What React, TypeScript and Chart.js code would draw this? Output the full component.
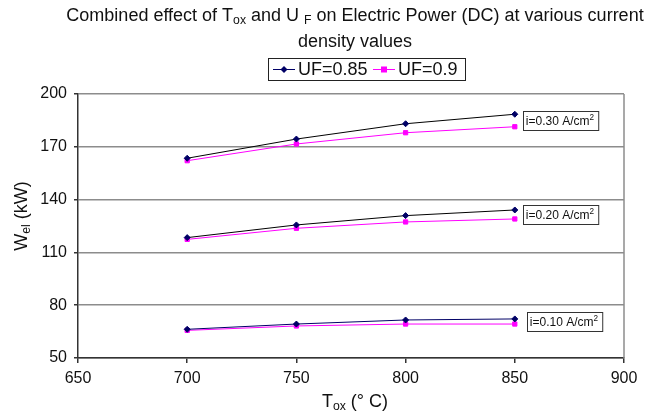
import React, { useEffect, useRef } from "react";
import { Chart, registerables } from "chart.js";
Chart.register(...registerables);

const tempsC = [700, 750, 800, 850];
const uf085_i030 = [163.5, 174.4, 183.1, 188.5];
const uf090_i030 = [162.1, 171.6, 178.0, 181.4];
const uf085_i020 = [118.4, 125.6, 130.9, 134.1];
const uf090_i020 = [117.4, 123.7, 127.3, 129.0];
const uf085_i010 = [66.3, 69.3, 71.6, 72.2];
const uf090_i010 = [65.7, 68.2, 69.3, 69.3];
const densityLabels = ["i=0.30 A/cm", "i=0.20 A/cm", "i=0.10 A/cm"];
const seriesNames = ["UF=0.85", "UF=0.9"];
const xMin = 650, xMax = 900, xStep = 50;
const yMin = 50, yMax = 200, yStep = 30;

const FONT = "'Liberation Sans', Arial, sans-serif";
const C085 = "#000066";
const C090 = "#ff00ff";

type Part = { t: string; sub?: boolean; sup?: boolean };

function partsWidth(ctx: CanvasRenderingContext2D, parts: Part[], size: number) {
  let w = 0;
  for (const p of parts) {
    const s = p.sub || p.sup ? size * 0.68 : size;
    ctx.font = `${s}px ${FONT}`;
    w += ctx.measureText(p.t).width;
  }
  return w;
}

function drawParts(ctx: CanvasRenderingContext2D, parts: Part[], x: number, cy: number, size: number) {
  ctx.textBaseline = "middle";
  ctx.textAlign = "left";
  let cx = x;
  for (const p of parts) {
    const s = p.sub || p.sup ? size * 0.68 : size;
    ctx.font = `${s}px ${FONT}`;
    const dy = p.sub ? size * 0.28 : p.sup ? -size * 0.38 : 0;
    ctx.fillText(p.t, cx, cy + dy);
    cx += ctx.measureText(p.t).width;
  }
}

function drawCentered(ctx: CanvasRenderingContext2D, parts: Part[], cx: number, cy: number, size: number) {
  const w = partsWidth(ctx, parts, size);
  drawParts(ctx, parts, cx - w / 2, cy, size);
}

const groups = [
  { a: uf085_i030, b: uf090_i030, lineA: "#000000", offset: 8 },
  { a: uf085_i020, b: uf090_i020, lineA: "#000000", offset: 8 },
  { a: uf085_i010, b: uf090_i010, lineA: C085, offset: 12 },
];

const decorPlugin = {
  id: "decor",
  afterDraw(chart: any) {
    const ctx: CanvasRenderingContext2D = chart.ctx;
    const { chartArea } = chart;
    const xs = chart.scales.x;
    const ys = chart.scales.y;
    ctx.save();
    // right border
    ctx.strokeStyle = "#8c8c8c";
    ctx.lineWidth = 1.5;
    ctx.beginPath();
    ctx.moveTo(chartArea.right, chartArea.top);
    ctx.lineTo(chartArea.right, chartArea.bottom);
    ctx.stroke();

    ctx.fillStyle = "#111";
    // title
    drawCentered(ctx, [
      { t: "Combined effect of T" }, { t: "ox", sub: true }, { t: " and U " }, { t: "F", sub: true },
      { t: " on Electric Power (DC) at various current" },
    ], 355, 16, 18);
    drawCentered(ctx, [{ t: "density values" }], 355, 42, 18);

    // legend
    const lx = 268, ly = 58, lw = 197, lh = 22;
    ctx.fillStyle = "#fff";
    ctx.fillRect(lx, ly, lw, lh);
    ctx.strokeStyle = "#222";
    ctx.lineWidth = 1;
    ctx.strokeRect(lx + 0.5, ly + 0.5, lw, lh);
    const cyL = ly + lh / 2 + 0.5;
    const items = [
      { name: seriesNames[0], color: C085, x0: 273, shape: "diamond" },
      { name: seriesNames[1], color: C090, x0: 373, shape: "square" },
    ];
    for (const it of items) {
      ctx.strokeStyle = it.color;
      ctx.lineWidth = 1;
      ctx.beginPath();
      ctx.moveTo(it.x0, cyL);
      ctx.lineTo(it.x0 + 22, cyL);
      ctx.stroke();
      ctx.fillStyle = it.color;
      const mx = it.x0 + 11;
      if (it.shape === "diamond") {
        ctx.beginPath();
        ctx.moveTo(mx, cyL - 3.5);
        ctx.lineTo(mx + 3.5, cyL);
        ctx.lineTo(mx, cyL + 3.5);
        ctx.lineTo(mx - 3.5, cyL);
        ctx.closePath();
        ctx.fill();
      } else {
        ctx.fillRect(mx - 3, cyL - 3, 6, 6);
      }
      ctx.fillStyle = "#111";
      drawParts(ctx, [{ t: it.name }], it.x0 + 25, cyL + 0.5, 18);
    }

    // axis titles
    ctx.fillStyle = "#111";
    drawCentered(ctx, [{ t: "T" }, { t: "ox", sub: true }, { t: " (° C)" }], 355, 402, 18);
    ctx.save();
    ctx.translate(22, 216);
    ctx.rotate(-Math.PI / 2);
    drawCentered(ctx, [{ t: "W" }, { t: "el", sub: true }, { t: " (kW)" }], 0, 0, 18);
    ctx.restore();

    // density annotations
    groups.forEach((g, i) => {
      const last = tempsC.length - 1;
      const x = xs.getPixelForValue(tempsC[last]) + g.offset;
      const y = (ys.getPixelForValue(g.a[last]) + ys.getPixelForValue(g.b[last])) / 2;
      const parts: Part[] = [{ t: densityLabels[i] }, { t: "2", sup: true }];
      const w = partsWidth(ctx, parts, 12) + 7;
      const h = 19;
      ctx.fillStyle = "#fff";
      ctx.fillRect(x, y - h / 2, w, h);
      ctx.strokeStyle = "#333";
      ctx.lineWidth = 1;
      ctx.strokeRect(Math.round(x) + 0.5, Math.round(y - h / 2) + 0.5, w, h);
      ctx.fillStyle = "#111";
      drawParts(ctx, parts, x + 3, y + 1.5, 12);
    });
    ctx.restore();
  },
};

export default function App() {
  const ref = useRef<HTMLCanvasElement | null>(null);
  useEffect(() => {
    document.body.style.margin = "0";
    if (!ref.current) return;
    const datasets: any[] = [];
    groups.forEach((g) => {
      datasets.push({
        label: seriesNames[0],
        data: tempsC.map((t, j) => ({ x: t, y: g.a[j] })),
        borderColor: g.lineA,
        backgroundColor: C085,
        pointBackgroundColor: C085,
        pointBorderColor: C085,
        pointStyle: "rectRot",
        pointRadius: 3,
        borderWidth: 1,
        pointBorderWidth: 1,
      });
      datasets.push({
        label: seriesNames[1],
        data: tempsC.map((t, j) => ({ x: t, y: g.b[j] })),
        borderColor: C090,
        backgroundColor: C090,
        pointBackgroundColor: C090,
        pointBorderColor: C090,
        pointStyle: "rect",
        pointRadius: 3,
        borderWidth: 1,
        pointBorderWidth: 1,
      });
    });
    const chart = new Chart(ref.current, {
      type: "line",
      data: { datasets },
      options: {
        animation: false,
        responsive: true,
        maintainAspectRatio: false,
        layout: { padding: { top: 94, right: 36, left: 0, bottom: 0 } },
        plugins: { legend: { display: false }, title: { display: false }, tooltip: { enabled: false } },
        scales: {
          x: {
            type: "linear",
            min: xMin,
            max: xMax,
            ticks: { stepSize: xStep, color: "#111", font: { family: FONT, size: 16 }, padding: 6 },
            grid: { drawOnChartArea: false, tickLength: 5, tickColor: "#333", lineWidth: 1.5 },
            border: { color: "#333", width: 1.5 },
            afterFit: (s: any) => { s.height = 56; },
          },
          y: {
            type: "linear",
            min: yMin,
            max: yMax,
            ticks: { stepSize: yStep, color: "#111", font: { family: FONT, size: 16 }, padding: 7 },
            grid: { color: "#8c8c8c", lineWidth: 1.5, tickLength: 4, tickColor: "#333" },
            border: { color: "#333", width: 1.5 },
            afterFit: (s: any) => { s.width = 78; },
          },
        },
      },
      plugins: [decorPlugin],
    });
    return () => chart.destroy();
  }, []);
  return (
    <div style={{ width: 660, height: 414, position: "relative" }}>
      <canvas ref={ref} />
    </div>
  );
}
